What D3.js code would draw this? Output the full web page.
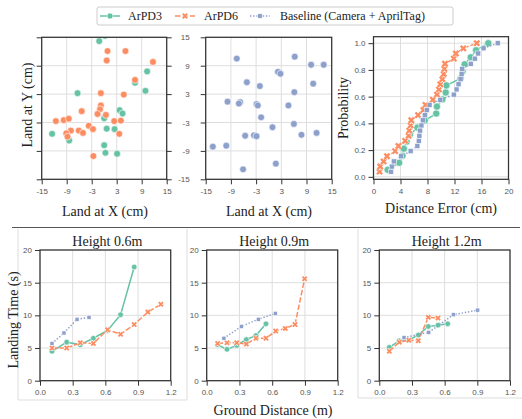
<!DOCTYPE html>
<html>
<head>
<meta charset="utf-8">
<script src="https://cdn.jsdelivr.net/npm/d3@7.9.0/dist/d3.min.js"></script>
<style>
  body { margin: 0; background: #fff; }
  svg { display: block; }
</style>
</head>
<body>
<svg id="chart" width="522" height="419"></svg>
<script>
// landing positions (cm)
const landArPD3 = [[-1.2,14.2],[0.2,15.3],[10.3,7.8],[7.4,5.4],[9.9,3.7],[-6.4,3.2],[3.7,-0.4],[4.4,-1.1],
  [0.0,-2.1],[0.6,-4.3],[2.5,-4.4],[-12.5,-5.4],[-8.4,-6.8],[0.0,-7.8],[0.3,-9.4],[3.1,-9.6]];
const landArPD6 = [[0.8,12.1],[5.1,12.1],[0.6,10.1],[11.7,9.8],[7.4,6.0],[-0.8,3.2],[4.7,2.9],[-0.8,0.6],
  [-1.0,-0.2],[-5.4,-0.6],[-1.6,-1.2],[0.4,-1.4],[-11.6,-2.7],[-9.7,-2.5],[-8.5,-2.2],[2.4,-2.7],[4.0,-2.6],
  [-3.7,-3.7],[-2.7,-4.4],[-6.1,-4.7],[-8.0,-4.7],[-5.1,-5.2],[-9.1,-5.3],[3.6,-5.4],[-8.8,-6.0],[-2.6,-10.1]];
const landBaseline = [[-7.6,10.5],[6.2,10.9],[10.1,9.2],[13.1,9.2],[2.2,7.7],[2.8,7.3],[-5.2,5.5],[-2.1,4.7],
  [10.6,5.2],[6.1,3.4],[-9.8,1.4],[-6.8,1.3],[-7.1,1.0],[-2.9,0.9],[-2.6,0.6],[4.7,0.6],[-1.8,-1.9],[0.9,-4.0],
  [6.0,-3.3],[11.4,-5.2],[7.8,-5.6],[-5.6,-5.8],[-3.5,-5.7],[-2.9,-5.9],[-13.3,-8.1],[-10.1,-7.9],[1.7,-11.7],[-6.1,-12.9]];

// distance errors (cm), sorted, for the CDF
const errorArPD3 = [2.1,3.8,4.3,4.5,4.9,5.4,6.5,7.6,9.3,9.4,10.2,10.7,10.8,12.9,13.2,13.5,14.4,15.2,17.0];
const errorArPD6 = [0.9,1.0,1.5,2.0,3.2,3.7,4.7,5.2,5.3,5.5,5.6,6.6,7.4,7.7,8.8,9.4,9.7,9.9,10.2,10.4,10.5,10.6,11.9,12.2,13.3,15.3];
const errorBaseline = [2.6,2.7,3.0,4.1,5.5,6.5,6.7,6.8,6.9,7.1,7.3,7.6,7.9,8.3,9.9,11.9,12.3,12.6,12.9,13.05,13.15,14.4,15.0,15.5,16.3,18.4];

// landing time (s) vs ground distance (m)
const h06Dist3 = [0.11,0.245,0.37,0.49,0.62,0.74,0.865];
const h06Time3 = [4.5,5.9,5.5,6.5,7.7,10.1,17.4];
const h06Dist6 = [0.11,0.245,0.37,0.49,0.62,0.74,0.865,0.99,1.11];
const h06Time6 = [5.0,5.0,5.8,5.7,7.8,7.1,8.6,10.5,11.7];
const h06DistB = [0.11,0.22,0.34,0.45];
const h06TimeB = [5.7,7.3,9.4,9.7];

const h09Dist3 = [0.1,0.186,0.275,0.363,0.451,0.543];
const h09Time3 = [5.5,4.8,5.4,6.3,6.9,8.7];
const h09Dist6 = [0.1,0.186,0.275,0.363,0.451,0.543,0.632,0.72,0.809,0.897];
const h09Time6 = [5.7,5.8,5.8,5.6,6.5,6.5,7.6,8.0,8.6,15.6];
const h09DistB = [0.158,0.317,0.473,0.628];
const h09TimeB = [6.5,8.3,9.4,10.3];

const h12Dist3 = [0.092,0.184,0.27,0.358,0.45,0.539,0.628];
const h12Time3 = [5.1,6.1,6.2,7.0,8.3,8.5,8.7];
const h12Dist6 = [0.092,0.184,0.27,0.358,0.45,0.539];
const h12Time6 = [4.5,5.9,6.2,6.1,9.7,9.6];
const h12DistB = [0.227,0.454,0.68,0.903];
const h12TimeB = [6.6,7.4,10.1,10.8];

const landTicks = [-15,-9,-3,3,9,15];
const errorTicks = [0,4,8,12,16,20];
const probTicks = [0,0.2,0.4,0.6,0.8,1.0];
const distTicks = [0,0.3,0.6,0.9,1.2];
const timeTicks = [0,5,10,15,20];

const seriesNames = ['ArPD3', 'ArPD6', 'Baseline (Camera + AprilTag)'];
const green = '#66c2a5', orange = '#fc8d62', blue = '#8da0cb';
const serif = '"Liberation Serif", "DejaVu Serif", serif';
const sans = '"Liberation Sans", Arial, sans-serif';

const svg = d3.select('#chart');
svg.append('rect').attr('width', 522).attr('height', 419).attr('fill', '#fff');

function makePanel(id, left, top, right, bottom, xDomain, yDomain) {
    const x = d3.scaleLinear().domain(xDomain).range([left, right]);
    const y = d3.scaleLinear().domain(yDomain).range([bottom, top]);
    svg.append('clipPath').attr('id', id).append('rect')
        .attr('x', left).attr('y', top).attr('width', right - left).attr('height', bottom - top);
    const grid = svg.append('g');
    const axes = svg.append('g');
    const marks = svg.append('g').attr('clip-path', `url(#${id})`);
    svg.append('rect')
        .attr('x', left).attr('y', top).attr('width', right - left).attr('height', bottom - top)
        .attr('fill', 'none').attr('stroke', '#333').attr('stroke-width', 1.25);
    return { x, y, left, top, right, bottom, grid, axes, marks };
}

function drawGrid(p, xt, yt) {
    p.grid.selectAll('.gx').data(xt).join('line')
        .attr('x1', d => p.x(d)).attr('x2', d => p.x(d))
        .attr('y1', p.top).attr('y2', p.bottom)
        .attr('stroke', '#dedede').attr('stroke-width', 1);
    p.grid.selectAll('.gy').data(yt).join('line')
        .attr('y1', d => p.y(d)).attr('y2', d => p.y(d))
        .attr('x1', p.left).attr('x2', p.right)
        .attr('stroke', '#dedede').attr('stroke-width', 1);
}

function styleAxis(g) {
    g.select('.domain').remove();
    g.selectAll('.tick line').attr('stroke', '#333').attr('stroke-width', 1);
    g.selectAll('.tick text').attr('font-family', sans).attr('font-size', 8).attr('fill', '#555');
}

function axis(p, side, ticks, fmt, padding) {
    let ax, pos;
    if (side === 'bottom') { ax = d3.axisBottom(p.x); pos = `translate(0,${p.bottom})`; }
    if (side === 'left') { ax = d3.axisLeft(p.y); pos = `translate(${p.left},0)`; }
    if (side === 'right') { ax = d3.axisRight(p.y); pos = `translate(${p.right},0)`; }
    ax.tickValues(ticks).tickSize(5).tickPadding(padding || 3).tickFormat(fmt);
    p.axes.append('g').attr('transform', pos).call(ax).call(styleAxis);
}

function marker(g, type, cx, cy, s, color) {
    if (type === 'circle') {
        g.append('circle').attr('cx', cx).attr('cy', cy).attr('r', s)
            .attr('fill', color).attr('stroke', '#fff').attr('stroke-width', 0.6);
    } else if (type === 'x') {
        const d = `M${cx - s},${cy - s}L${cx + s},${cy + s}M${cx - s},${cy + s}L${cx + s},${cy - s}`;
        g.append('path').attr('d', d).attr('stroke', '#fff').attr('stroke-width', s * 0.9 + 1.2);
        g.append('path').attr('d', d).attr('stroke', color).attr('stroke-width', s * 0.9);
    } else {
        g.append('rect').attr('x', cx - s).attr('y', cy - s).attr('width', 2 * s).attr('height', 2 * s)
            .attr('fill', color).attr('stroke', '#fff').attr('stroke-width', 0.5);
    }
}

const styles = [
    { color: green, type: 'circle', dash: null },
    { color: orange, type: 'x', dash: '5.5,2' },
    { color: blue, type: 'square', dash: '1.4,1.8' },
];

function series(p, xs, ys, st, sizes) {
    const line = d3.line().x((d, i) => p.x(xs[i])).y((d, i) => p.y(ys[i]));
    p.marks.append('path').attr('d', line(xs))
        .attr('fill', 'none').attr('stroke', st.color).attr('stroke-width', 1.5)
        .attr('stroke-dasharray', st.dash);
    const g = p.marks.append('g');
    const s = st.type === 'circle' ? sizes[0] : st.type === 'x' ? sizes[1] : sizes[2];
    xs.forEach((v, i) => marker(g, st.type, p.x(v), p.y(ys[i]), s, st.color));
}

function title(text, x, y, size, rotate) {
    const t = svg.append('text').text(text)
        .attr('font-family', serif).attr('font-size', size).attr('fill', '#222')
        .attr('text-anchor', 'middle').attr('dominant-baseline', 'central');
    if (rotate) t.attr('transform', `translate(${x},${y}) rotate(-90)`);
    else t.attr('x', x).attr('y', y);
}

const plain = d => String(d);

// ---- landing scatter, ArPD3 + ArPD6
const pA = makePanel('clipA', 41.7, 37.3, 166.7, 179.3, [-15, 15], [-15, 15]);
drawGrid(pA, landTicks, landTicks);
axis(pA, 'left', landTicks, () => '');
axis(pA, 'right', landTicks, () => '');
axis(pA, 'bottom', landTicks, plain, 4);
[[landArPD3, green], [landArPD6, orange]].forEach(([pts, c]) => {
    pts.forEach(d => marker(pA.marks, 'circle', pA.x(d[0]), pA.y(d[1]), 3.4, c));
});
title('Land at Y (cm)', 27, 105, 14, true);
title('Land at X (cm)', 105, 211, 14);

// ---- landing scatter, baseline
const pB = makePanel('clipB', 205.7, 37.3, 331.7, 179.3, [-15, 15], [-15, 15]);
drawGrid(pB, landTicks, landTicks);
axis(pB, 'left', landTicks, plain, 11);
axis(pB, 'bottom', landTicks, plain, 4);
landBaseline.forEach(d => marker(pB.marks, 'circle', pB.x(d[0]), pB.y(d[1]), 3.4, blue));
title('Land at X (cm)', 269, 211, 14);

// ---- CDF of distance error
const pC = makePanel('clipC', 373.5, 36.7, 508.5, 179.3, [0, 20], [-0.0185, 1.0485]);
drawGrid(pC, errorTicks, probTicks);
axis(pC, 'left', probTicks, d3.format('.1f'));
axis(pC, 'bottom', errorTicks, plain, 4);
[errorArPD3, errorArPD6, errorBaseline].forEach((errs, k) => {
    const ys = errs.map((e, i) => (i + 1) / errs.length);
    series(pC, errs, ys, styles[k], [3.6, 2.6, 2.5]);
});
title('Probability', 343, 108, 14, true);
title('Distance Error (cm)', 441, 208, 14);

// ---- separator and light panel boxes
svg.append('line').attr('x1', 12).attr('x2', 520).attr('y1', 227.5).attr('y2', 227.5)
    .attr('stroke', '#555').attr('stroke-width', 1.2);
const boxLines = [[18, 229, 18, 400], [18, 400, 187, 400], [187, 229, 187, 400],
    [358, 229, 358, 398], [358, 398, 522, 398]];
svg.append('g').selectAll('line').data(boxLines).join('line')
    .attr('x1', d => d[0]).attr('y1', d => d[1]).attr('x2', d => d[2]).attr('y2', d => d[3])
    .attr('stroke', '#dddddd').attr('stroke-width', 1);

// ---- landing time panels
const heights = [
    { name: 'Height 0.6m', left: 40, right: 170.7, data: [[h06Dist3, h06Time3], [h06Dist6, h06Time6], [h06DistB, h06TimeB]] },
    { name: 'Height 0.9m', left: 206.7, right: 337.7, data: [[h09Dist3, h09Time3], [h09Dist6, h09Time6], [h09DistB, h09TimeB]] },
    { name: 'Height 1.2m', left: 379.3, right: 510, data: [[h12Dist3, h12Time3], [h12Dist6, h12Time6], [h12DistB, h12TimeB]] },
];
heights.forEach((h, k) => {
    const p = makePanel('clipH' + k, h.left, 250, h.right, 380.7, [0, 1.2], [0, 20]);
    drawGrid(p, distTicks, timeTicks);
    axis(p, 'left', timeTicks, plain);
    axis(p, 'bottom', distTicks, d3.format('.1f'), 4);
    h.data.forEach(([xs, ys], j) => series(p, xs, ys, styles[j], [2.8, 2.1, 2.0]));
    title(h.name, (h.left + h.right) / 2 + 2, 241, 14);
});
title('Landing Time (s)', 13, 320, 14, true);
title('Ground Distance (m)', 273, 410, 14);

// ---- legend
const leg = svg.append('g');
leg.append('rect').attr('x', 97).attr('y', 7).attr('width', 356).attr('height', 18).attr('rx', 2)
    .attr('fill', '#fff').attr('stroke', '#cccccc').attr('stroke-width', 1);
const legX = [100, 175, 250];
const legText = [128, 204, 280];
seriesNames.forEach((name, i) => {
    const st = styles[i];
    leg.append('line').attr('x1', legX[i]).attr('x2', legX[i] + 20).attr('y1', 16).attr('y2', 16)
        .attr('stroke', st.color).attr('stroke-width', 1.5).attr('stroke-dasharray', st.dash);
    marker(leg, st.type, legX[i] + 10, 16, st.type === 'circle' ? 3 : 2.2, st.color);
    leg.append('text').text(name).attr('x', legText[i]).attr('y', 16)
        .attr('dominant-baseline', 'central')
        .attr('font-family', serif).attr('font-size', 12).attr('fill', '#222');
});
</script>
</body>
</html>
